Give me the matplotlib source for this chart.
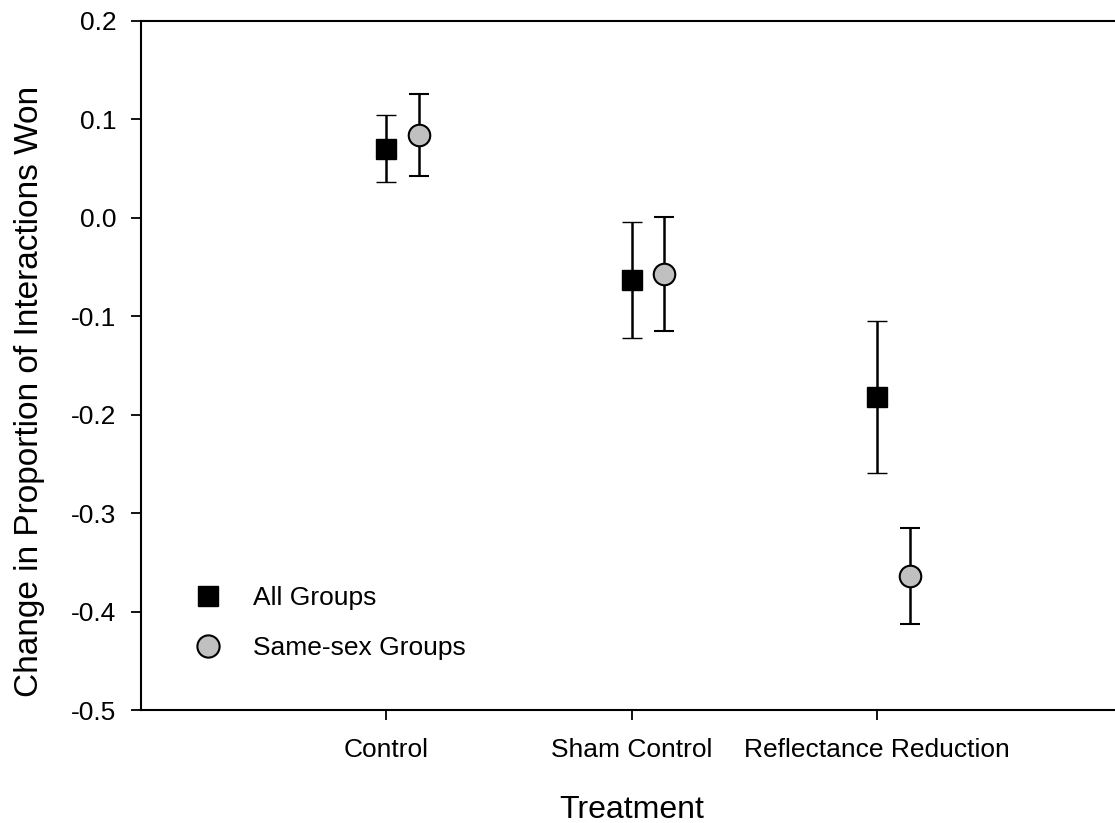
import matplotlib
matplotlib.use("Agg")
import matplotlib.pyplot as plt
from matplotlib.lines import Line2D
import numpy as np

plt.rcParams['font.family'] = ['Liberation Sans', 'DejaVu Sans']

categories = ["Control", "Sham Control", "Reflectance Reduction"]
all_mean = [0.070, -0.063, -0.182]
all_se = [0.034, 0.059, 0.077]
same_mean = [0.084, -0.057, -0.364]
same_se = [0.042, 0.058, 0.049]
yticks = [0.2, 0.1, 0.0, -0.1, -0.2, -0.3, -0.4, -0.5]

W, H = 1115, 823
fig = plt.figure(figsize=(W / 100, H / 100), dpi=100)
left_px, right_px, top_px, bot_px = 140.5, 1122.5, 20.7, 710.0
ax = fig.add_axes([left_px / W, (H - bot_px) / H,
                   (right_px - left_px) / W, (bot_px - top_px) / H])

x = np.arange(1, len(categories) + 1)
offset = 0.133

ax.errorbar(x, all_mean, yerr=all_se, fmt='s', color='black', ecolor='black',
            markerfacecolor='black', markeredgecolor='black', markersize=14.4,
            markeredgewidth=1.0, elinewidth=1.8, capsize=7.2, capthick=1.8, zorder=3)
ax.errorbar(x + offset, same_mean, yerr=same_se, fmt='o', ecolor='black',
            markerfacecolor='#c0c0c0', markeredgecolor='black', markersize=15.5,
            markeredgewidth=1.5, elinewidth=1.8, capsize=7.2, capthick=1.8, zorder=3)

ax.set_xlim(0, 4)
ax.set_ylim(-0.5, 0.2)
ax.set_xticks(x)
ax.set_xticklabels(categories)
ax.set_yticks(yticks)
ax.set_yticklabels([f"{t:.1f}" for t in yticks])

for s in ax.spines.values():
    s.set_linewidth(1.5)

ax.tick_params(axis='both', direction='out', length=7.2, width=1.3, labelsize=19)
ax.tick_params(axis='x', pad=13)
ax.tick_params(axis='y', pad=10)

ax.set_xlabel("Treatment", fontsize=23)
ax.set_ylabel("Change in Proportion of Interactions Won", fontsize=24)
ax.xaxis.set_label_coords(0.5, -(795 - bot_px) / (bot_px - top_px))
ax.yaxis.set_label_coords((44.7 - left_px) / (right_px - left_px),
                          (bot_px - 391) / (bot_px - top_px))

handles = [
    Line2D([], [], linestyle='none', marker='s', markersize=14.4,
           markerfacecolor='black', markeredgecolor='black'),
    Line2D([], [], linestyle='none', marker='o', markersize=16,
           markerfacecolor='#c0c0c0', markeredgecolor='black', markeredgewidth=1.5),
]
ax.legend(handles, ["All Groups", "Same-sex Groups"], loc='center left',
          bbox_to_anchor=((158 - left_px) / (right_px - left_px),
                          (bot_px - 623) / (bot_px - top_px)),
          frameon=False, fontsize=19, labelspacing=1.0, handlelength=2.0,
          handletextpad=0.69, borderpad=0.4)

fig.savefig("out.png", dpi=100)
